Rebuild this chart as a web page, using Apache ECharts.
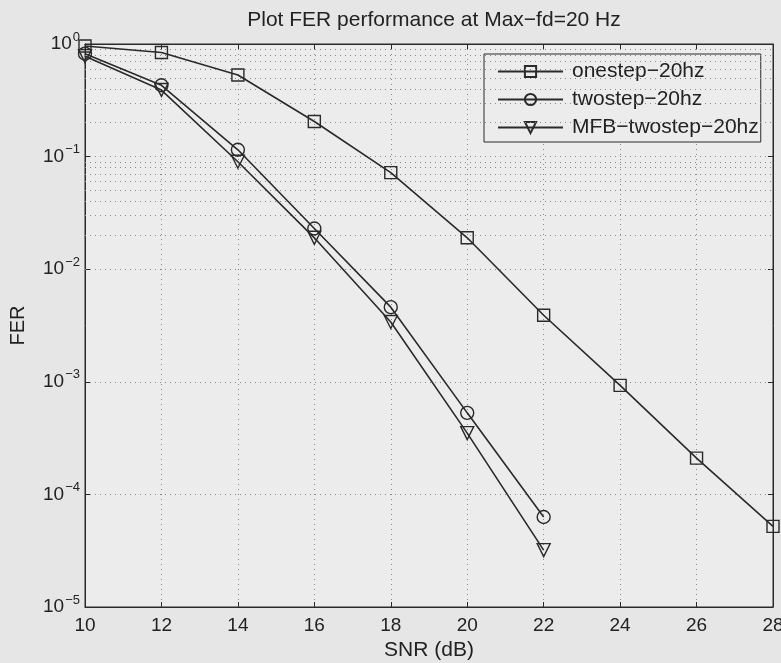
<!DOCTYPE html>
<html>
<head>
<meta charset="utf-8">
<script src="https://cdn.jsdelivr.net/npm/echarts@6/dist/echarts.min.js"></script>
<style>
  html, body { margin: 0; padding: 0; background: #e6e6e6; }
  #chart { width: 781px; height: 663px; }
</style>
</head>
<body>
<div id="chart"></div>
<script>
// SNR points (dB) and frame error rates for each receiver
const snr = [10, 12, 14, 16, 18, 20, 22, 24, 26, 28];
const onestep = [0.96, 0.84, 0.53, 0.205, 0.072, 0.019, 0.0039, 0.00093, 0.00021, 5.2e-5];
const twostep = [0.82, 0.43, 0.115, 0.023, 0.0046, 0.00053, 6.3e-5];
const mfbTwostep = [0.78, 0.39, 0.09, 0.019, 0.0034, 0.00035, 3.2e-5];

const seriesNames = ['onestep\u221220hz', 'twostep\u221220hz', 'MFB\u2212twostep\u221220hz'];
const decades = [-5, -4, -3, -2, -1];

const ink = '#2a2a2a';
const textInk = '#222';
const gridDots = { color: '#8a8a8a', width: 1, type: [1, 4] };
const font = '"Liberation Sans", Arial, Helvetica, sans-serif';

// minor log-grid values 2..9 x 10^k
const minorValues = [];
decades.forEach(k => { for (let m = 2; m <= 9; m++) minorValues.push(m * Math.pow(10, k)); });

const pairs = (xs, ys) => ys.map((y, i) => [xs[i], y]);

const chart = echarts.init(document.getElementById('chart'), null, { renderer: 'canvas' });

const lineSeries = (name, data, symbol, size, rotate) => ({
  name, type: 'line', data, symbol, symbolSize: size, symbolRotate: rotate || 0,
  showAllSymbol: true,
  lineStyle: { color: ink, width: 1.6 },
  itemStyle: { color: 'rgba(0,0,0,0)', borderColor: ink, borderWidth: 1.4 },
  emphasis: { disabled: true },
  z: 5
});

chart.setOption({
  backgroundColor: '#e6e6e6',
  animation: false,
  textStyle: { fontFamily: font },
  title: {
    text: 'Plot FER performance at Max\u2212fd=20 Hz',
    left: 429, top: 5, textAlign: 'center',
    textStyle: { fontSize: 21, fontWeight: 'normal', color: textInk, fontFamily: font }
  },
  grid: {
    left: 85, right: 8, top: 44, bottom: 56,
    outerBoundsMode: 'none', containLabel: false,
    show: true, backgroundColor: '#ececec', borderColor: ink, borderWidth: 1
  },
  legend: {
    data: seriesNames.map(n => ({ name: n })),
    orient: 'vertical', left: 484, top: 54,
    itemWidth: 65, itemHeight: 14, itemGap: 7,
    padding: [7, 2, 4, 13],
    backgroundColor: '#ececec', borderColor: ink, borderWidth: 1, borderRadius: 0,
    textStyle: { fontSize: 21, color: textInk, fontFamily: font, padding: [0, 0, 0, 4] }
  },
  xAxis: [{
    type: 'value', min: 10, max: 28, interval: 2,
    name: 'SNR (dB)', nameLocation: 'middle', nameGap: 32,
    nameTextStyle: { fontSize: 21, color: textInk },
    axisLine: { lineStyle: { color: ink } },
    axisTick: { inside: true, length: 5, lineStyle: { color: ink } },
    axisLabel: { fontSize: 19, color: textInk, margin: 9 },
    splitLine: { show: true, lineStyle: gridDots }
  }, {
    type: 'value', min: 10, max: 28, interval: 2, position: 'top',
    axisLine: { show: true, lineStyle: { color: ink } },
    axisTick: { inside: true, length: 5, lineStyle: { color: ink } },
    axisLabel: { show: false }, splitLine: { show: false }
  }],
  yAxis: [{
    type: 'log', logBase: 10, min: 1e-5, max: 1,
    name: 'FER', nameLocation: 'middle', nameGap: 57, nameRotate: 90,
    nameTextStyle: { fontSize: 20, color: textInk },
    axisLine: { show: true, lineStyle: { color: ink } },
    axisTick: { inside: true, length: 5, lineStyle: { color: ink } },
    axisLabel: {
      margin: 5, color: textInk,
      formatter: v => {
        const e = Math.round(Math.log10(v));
        return '{b|10}{s|' + (e < 0 ? '\u2212' + (-e) : e) + '}';
      },
      rich: {
        b: { fontSize: 19, color: textInk, fontFamily: font },
        s: { fontSize: 13, color: textInk, fontFamily: font, verticalAlign: 'bottom', padding: [0, 0, 14, 1] }
      }
    },
    splitLine: { show: true, lineStyle: gridDots }
  }, {
    type: 'log', logBase: 10, min: 1e-5, max: 1, position: 'right',
    axisLine: { show: true, lineStyle: { color: ink } },
    axisTick: { inside: true, length: 5, lineStyle: { color: ink } },
    axisLabel: { show: false }, splitLine: { show: false }
  }],
  series: [
    {
      name: 'minor grid', type: 'line', data: [], silent: true,
      markLine: {
        silent: true, symbol: ['none', 'none'], label: { show: false },
        lineStyle: gridDots, animation: false,
        data: minorValues.map(v => ({ yAxis: v }))
      }
    },
    lineSeries(seriesNames[0], pairs(snr, onestep), 'rect', 12),
    lineSeries(seriesNames[1], pairs(snr, twostep), 'circle', 13),
    lineSeries(seriesNames[2], pairs(snr, mfbTwostep), 'triangle', 13, 180)
  ]
});
</script>
</body>
</html>
